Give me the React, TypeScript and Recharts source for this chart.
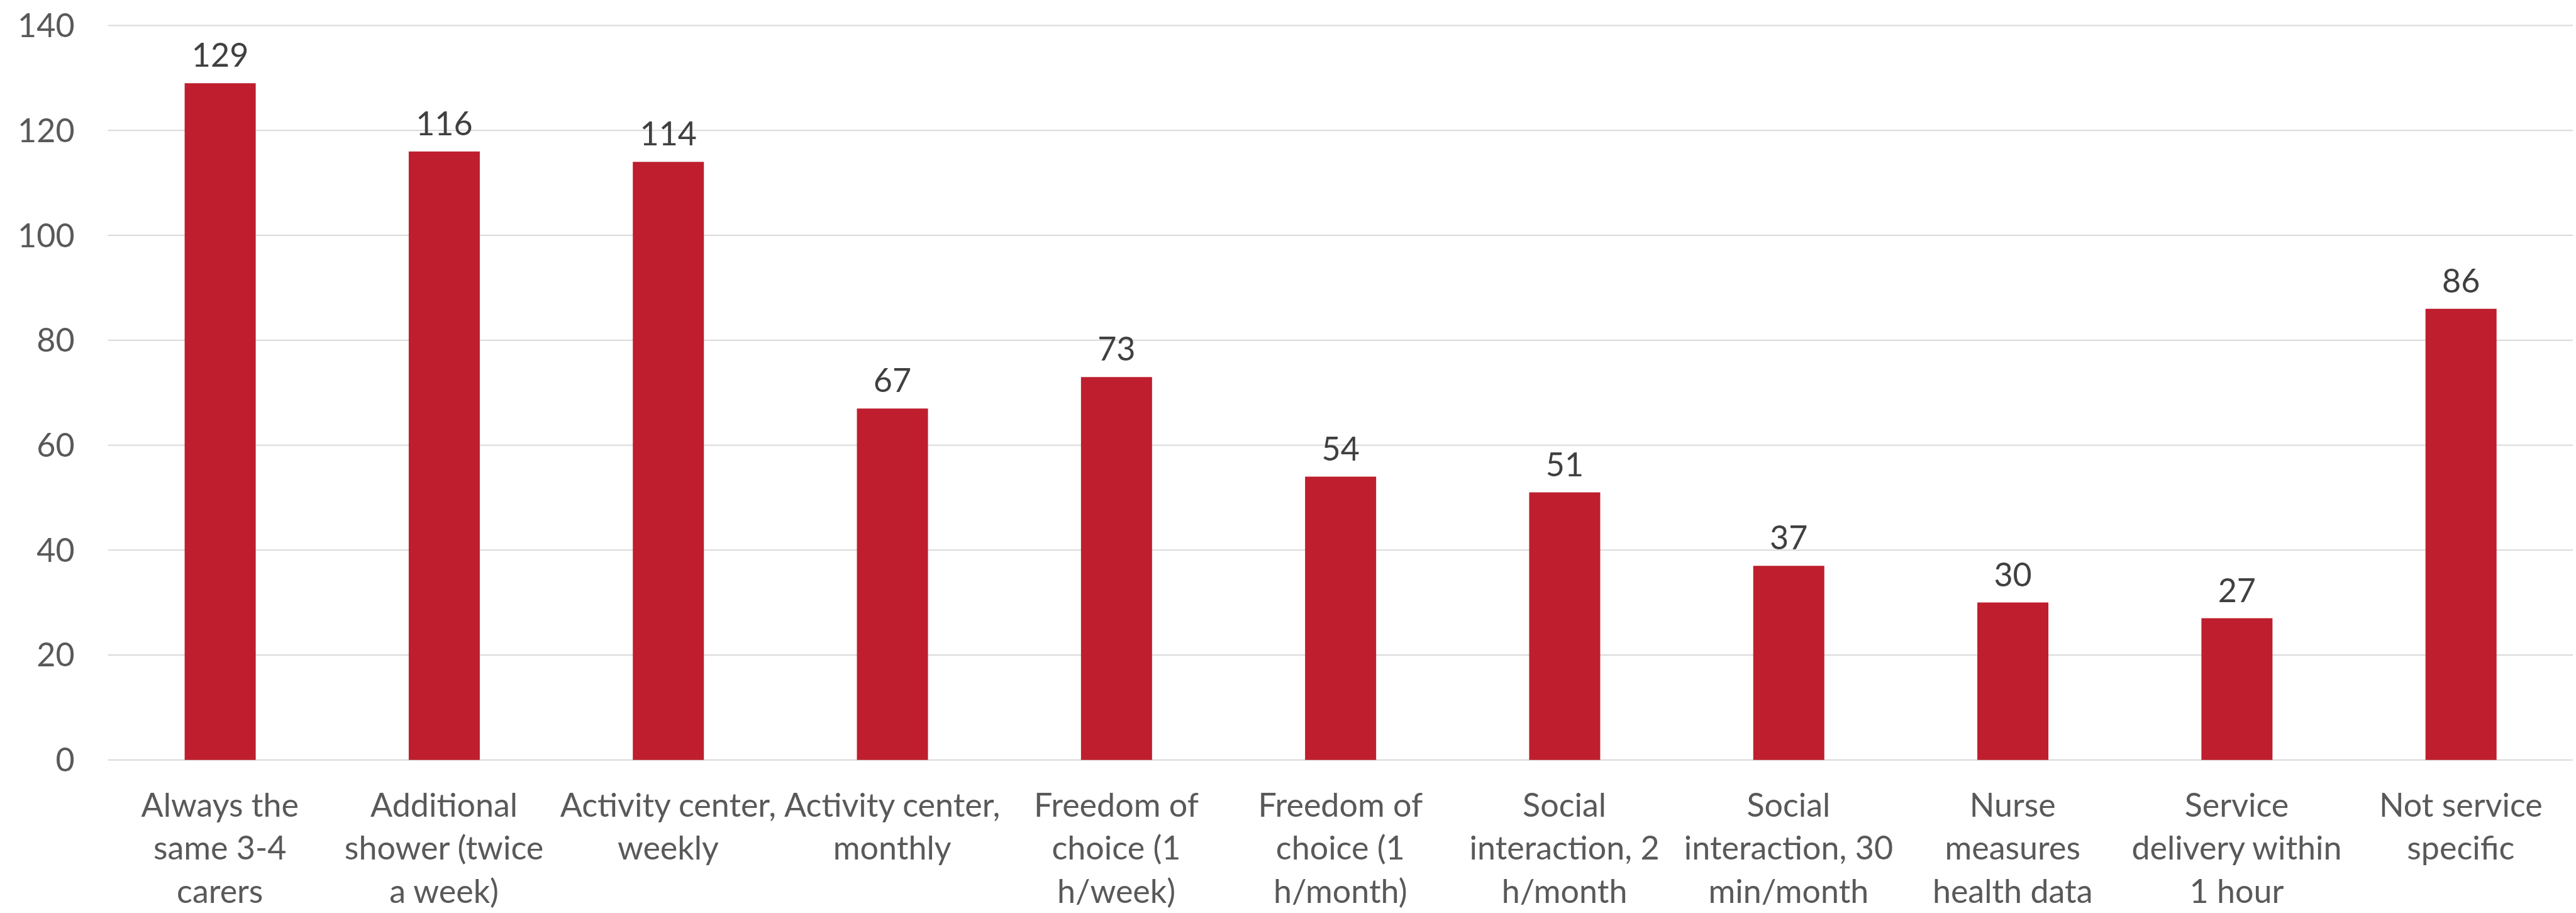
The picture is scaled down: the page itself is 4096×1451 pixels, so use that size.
import { BarChart, Bar, XAxis, YAxis, CartesianGrid, LabelList } from "recharts";

const categories = [
  "Always the\nsame 3-4\ncarers",
  "Additional\nshower (twice\na week)",
  "Activity center,\nweekly",
  "Activity center,\nmonthly",
  "Freedom of\nchoice (1\nh/week)",
  "Freedom of\nchoice (1\nh/month)",
  "Social\ninteraction, 2\nh/month",
  "Social\ninteraction, 30\nmin/month",
  "Nurse\nmeasures\nhealth data",
  "Service\ndelivery within\n1 hour",
  "Not service\nspecific",
];
const counts = [129, 116, 114, 67, 73, 54, 51, 37, 30, 27, 86];
const yTicks = [0, 20, 40, 60, 80, 100, 120, 140];

const FONT = "Lato, 'Open Sans', sans-serif";

function CategoryTick({ x, y, payload }: any) {
  const lines = String(payload.value).split("\n");
  return (
    <text x={x} y={y} textAnchor="middle" fill="#595959" fontSize={52} fontFamily={FONT}>
      {lines.map((line, i) => (
        <tspan key={i} x={x} dy={i === 0 ? 90 : 68.7}>
          {line}
        </tspan>
      ))}
    </text>
  );
}

export default function App() {
  const data = categories.map((name, i) => ({ name, count: counts[i] }));

  return (
    <div style={{ position: "absolute", left: 0, top: 0, background: "#fff" }}>
      <BarChart
        width={4096}
        height={1451}
        data={data}
        margin={{ top: 40.6, right: 5, left: 0, bottom: 0 }}
      >
        <CartesianGrid vertical={false} stroke="#d9d9d9" strokeWidth={2} />
        <XAxis
          dataKey="name"
          axisLine={false}
          tickLine={false}
          tickSize={0}
          tickMargin={0}
          height={243.3}
          interval={0}
          tick={<CategoryTick />}
        />
        <YAxis
          domain={[0, 140]}
          ticks={yTicks}
          width={171.6}
          axisLine={false}
          tickLine={false}
          tickSize={0}
          tickMargin={53}
          tick={{ fontSize: 52, fill: "#595959", fontFamily: FONT }}
        />
        <Bar dataKey="count" fill="#be1e2d" barSize={113} isAnimationActive={false}>
          <LabelList
            dataKey="count"
            position="top"
            offset={26}
            fill="#404040"
            fontSize={52}
            fontFamily={FONT}
          />
        </Bar>
      </BarChart>
    </div>
  );
}
